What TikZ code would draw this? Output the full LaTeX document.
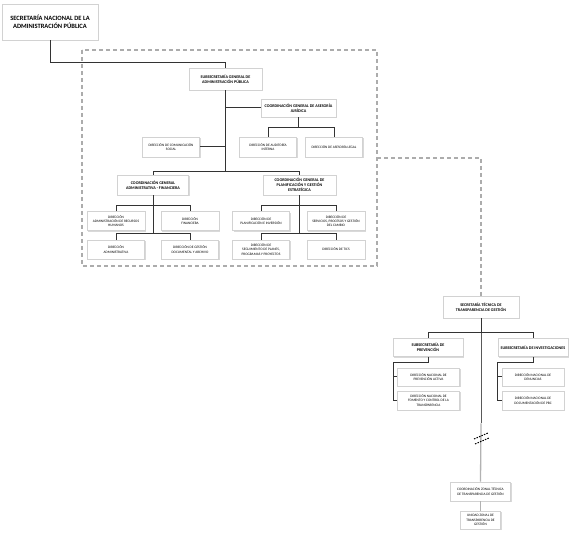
\documentclass[tikz,border=0pt]{standalone}
\usepackage{fontspec}
\setmainfont{Carlito}
\usetikzlibrary{shadows}
\begin{document}
\begin{tikzpicture}[x=1pt,y=-1pt,
  box/.style={draw=gray!35, line width=0.6pt, fill=white, align=center, inner sep=0pt,
    drop shadow={shadow xshift=1.1pt, shadow yshift=-1.1pt, opacity=0.3, fill=gray}},
  sz/.style n args={2}{minimum width=#1pt, minimum height=#2pt},
  big/.style={box, font=\fontsize{6.5}{7.6}\selectfont\bfseries},
  hd/.style={box, font=\fontsize{4.1}{4.8}\selectfont\bfseries},
  dr/.style={box, font=\fontsize{3.5}{4.2}\selectfont},
  ln/.style={draw=black!80, line width=1pt},
  lnl/.style={draw=gray!60, line width=1.3pt},
  dsh/.style={draw=gray!65, line width=1.2pt, dash pattern=on 4pt off 3pt},
  brk/.style={draw=black, line width=1pt, dash pattern=on 1.5pt off 1.2pt},
]
\useasboundingbox (0,0) rectangle (574,559);

% dashed frame
\draw[dsh] (82,50) rectangle (377,266);
\coordinate (fr) at (377,158);

% nodes
\node[big, sz={96}{36}] (top) at (50,22) {SECRETARÍA NACIONAL DE LA\\ADMINISTRACIÓN PÚBLICA};
\node[hd, sz={73}{22}] (sub) at (225.5,79) {SUBSECRETARÍA GENERAL DE\\ADMINISTRACIÓN PÚBLICA};
\node[hd, sz={75}{18}] (jur) at (298.5,108) {COORDINACIÓN GENERAL DE ASESORÍA\\JURÍDICA};
\node[dr, sz={57}{20}] (com) at (171,147) {DIRECCIÓN DE COMUNICACIÓN\\SOCIAL};
\node[dr, sz={57}{20}] (aud) at (268,147) {DIRECCIÓN DE AUDITORÍA\\INTERNA};
\node[dr, sz={57}{20}] (leg) at (334,147) {DIRECCIÓN DE ASESORÍA LEGAL};
\node[hd, sz={71}{20}] (adm) at (153,185) {COORDINACIÓN GENERAL\\ADMINISTRATIVA - FINANCIERA};
\node[hd, sz={73}{20}] (pla) at (299.5,185) {COORDINACIÓN GENERAL DE\\PLANIFICACIÓN Y GESTIÓN\\ESTRATÉGICA};
\node[dr, sz={58}{19}] (rh) at (116,221) {DIRECCIÓN\\ADMINISTRACIÓN DE RECURSOS\\HUMANOS};
\node[dr, sz={58}{19}] (fin) at (190,221) {DIRECCIÓN\\FINANCIERA};
\node[dr, sz={57}{19}] (ad) at (116,249.5) {DIRECCIÓN\\ADMINISTRATIVA};
\node[dr, sz={57}{19}] (doc) at (190,249.5) {DIRECCIÓN DE GESTIÓN\\DOCUMENTAL Y ARCHIVO};
\node[dr, sz={57}{19}] (pi) at (261,221) {DIRECCIÓN DE\\PLANIFICACIÓN E INVERSIÓN};
\node[dr, sz={58}{19}] (sv) at (336,221) {DIRECCIÓN DE\\SERVICIOS, PROCESOS Y GESTIÓN\\DEL CAMBIO};
\node[dr, sz={57}{19}] (seg) at (261,249.5) {DIRECCIÓN DE\\SEGUIMIENTO DE PLANES,\\PROGRAMAS Y PROYECTOS};
\node[dr, sz={58}{19}] (tic) at (336,249.5) {DIRECCIÓN DE TICS};

\node[hd, sz={76}{22}] (st) at (481,307) {SECRETARÍA TÉCNICA DE\\TRANSPARENCIA DE GESTIÓN};
\node[hd, sz={70}{18}] (sp) at (428,347.5) {SUBSECRETARÍA DE\\PREVENCIÓN};
\node[hd, sz={70}{18}] (si) at (533,347.5) {SUBSECRETARÍA DE INVESTIGACIONES};
\node[dr, sz={62}{18}] (pa) at (428.5,377) {DIRECCIÓN NACIONAL DE\\PREVENCIÓN ACTIVA};
\node[dr, sz={62}{19}] (fo) at (428.5,400.5) {DIRECCIÓN NACIONAL DE\\FOMENTO Y CONTROL DE LA\\TRANSPARENCIA};
\node[dr, sz={62}{18}] (de) at (533,377) {DIRECCIÓN NACIONAL DE\\DENUNCIAS};
\node[dr, sz={62}{19}] (dc) at (533,400.5) {DIRECCIÓN NACIONAL DE\\DOCUMENTACIÓN DE PBC};
\node[dr, sz={60}{19}] (cz) at (480.5,491.5) {COORDINACIÓN ZONAL TÉCNICA\\DE TRANSPARENCIA DE GESTIÓN};
\node[dr, sz={40}{18}] (uz) at (480.5,520) {UNIDAD ZONAL DE\\TRANSPARENCIA DE\\GESTIÓN};

% connectors left part
\draw[ln] (top.south) -- ++(0,22) -| (sub.north);
\draw[ln] (sub.south) -- ++(0,81) coordinate (j1);
\draw[ln] (adm.north) |- (j1) -| (pla.north);
\draw[ln] (sub.south |- jur.west) -- (jur.west);
\draw[ln] (com.east) -- (com.east -| sub.south);
\draw[ln] (jur.south) -- ++(0,11);
\draw[ln] (aud.north) -- ++(0,-9) -| (leg.north);
\draw[ln] (adm.south) -- ++(0,39);
\draw[ln] (rh.north) -- ++(0,-5.5) -| (fin.north);
\draw[ln] (ad.north) -- ++(0,-6) -| (doc.north);
\draw[ln] (pla.south) -- ++(0,39);
\draw[ln] (pi.north) -- ++(0,-5.5) -| (sv.north);
\draw[ln] (seg.north) -- ++(0,-6) -| (tic.north);

% dashed link
\draw[dsh] (fr) -| (st.north);

% right part
\draw[ln] (st.south) -- ++(0,15) coordinate (j2);
\draw[ln] (sp.north) -- ++(0,-5.5) -| (si.north);
\draw[draw=black!65, line width=1pt] (j2) -- ++(0,90) coordinate (j3);
\draw[lnl] (j3) -- (cz.north);
\draw[ln] (sp.south) -- ++(0,5.5) -| ([xshift=-4pt]fo.west) -- (fo.west);
\draw[ln] ([xshift=-4pt]pa.west) -- (pa.west);
\draw[ln] (si.south) -- ++(0,5.5) -| ([xshift=-4pt]dc.west) -- (dc.west);
\draw[ln] ([xshift=-4pt]de.west) -- (de.west);
\draw[lnl] (cz.south) -- (uz.north);

% break mark
\draw[brk] (474,439) -- (488,433);
\draw[brk] (475,444) -- (489,438);
\end{tikzpicture}
\end{document}
